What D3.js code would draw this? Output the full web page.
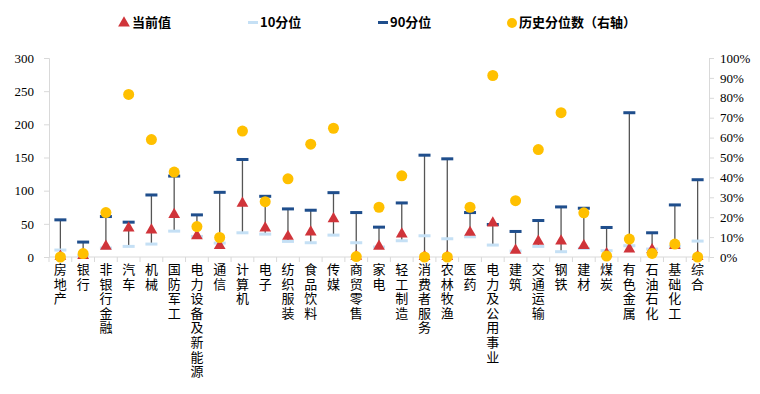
<!DOCTYPE html>
<meta charset="utf-8">
<script src="https://d3js.org/d3.v7.min.js"></script>
<style>
  body { margin: 0; background: #fff; }
</style>
<div id="my_dataviz"></div>
<script>

// categories and series
var categories = ["房地产","银行","非银行金融","汽车","机械","国防军工","电力设备及新能源","通信","计算机","电子",
  "纺织服装","食品饮料","传媒","商贸零售","家电","轻工制造","消费者服务","农林牧渔","医药","电力及公用事业",
  "建筑","交通运输","钢铁","建材","煤炭","有色金属","石油石化","基础化工","综合"];
var current = [1, 2, 16, 43.5, 40.5, 64, 32, 17, 81, 43.5,
  31, 37.5, 57.5, 1, 16, 34.5, 0.5, 0.5, 37, 51,
  10, 23.5, 24, 17, 5, 12, 11, 17, 0.5];
var p10 = [10.5, 2, 13.5, 16, 19.5, 39, 31, 21, 36.5, 34.5,
  23.5, 21.5, 33, 21.5, 15, 24.5, 32, 27.5, 30.5, 18,
  9, 16, 8, 13, 9.5, 17, 12, 16, 24];
var p90 = [56, 22.5, 61, 52.5, 93.5, 122, 63.5, 97.5, 147, 91.5,
  72.5, 70.5, 97, 67, 45, 81.5, 153.5, 148, 67, 49,
  38.5, 55, 75.5, 73.5, 44.5, 217.5, 36.5, 78.5, 116.5];
var pct = [0, 1.7, 22.3, 81.7, 59, 42.7, 15.3, 9.8, 63.3, 27.8,
  39.3, 56.7, 64.7, 0.2, 25, 40.8, 0, 0, 25, 91.2,
  28.3, 54, 72.5, 22.2, 0.5, 9, 1.8, 6.5, 0];
var leftTicks = [0, 50, 100, 150, 200, 250, 300];
var rightTicks = [0, 10, 20, 30, 40, 50, 60, 70, 80, 90, 100];

var W = 760, H = 394;
var x0 = 49, x1 = 709, yTop = 58, yBot = 257;

var svg = d3.select("#my_dataviz")
  .append("svg")
    .attr("width", W)
    .attr("height", H);

var x = d3.scaleBand()
  .domain(categories)
  .range([x0, x1])
  .padding(0);
var y = d3.scaleLinear().domain([0, 300]).range([yBot, yTop]);
var y2 = d3.scaleLinear().domain([0, 100]).range([yBot, yTop]);

var axisColor = "#d9d9d9";
var numFont = "'Liberation Serif', 'Times New Roman', serif";
var cjkFont = "'Noto Sans CJK SC', sans-serif";

// left axis
var gl = svg.append("g")
  .attr("transform", "translate(" + x0 + ",0)")
  .call(d3.axisLeft(y).tickValues(leftTicks).tickSize(5).tickPadding(10));
gl.select(".domain").attr("stroke", axisColor);
gl.selectAll(".tick line").attr("stroke", axisColor);
gl.selectAll("text").style("font-family", numFont).style("font-size", "13px").attr("fill", "#000");

// right axis
var gr = svg.append("g")
  .attr("transform", "translate(" + x1 + ",0)")
  .call(d3.axisRight(y2).tickValues(rightTicks).tickSize(5).tickPadding(6)
    .tickFormat(function(d) { return d + "%"; }));
gr.select(".domain").attr("stroke", axisColor);
gr.selectAll(".tick line").attr("stroke", axisColor);
gr.selectAll("text").style("font-family", numFont).style("font-size", "13px").attr("fill", "#000");

// bottom axis line with category separators
svg.append("line")
  .attr("x1", x0).attr("x2", x1)
  .attr("y1", yBot).attr("y2", yBot)
  .attr("stroke", axisColor);
svg.selectAll("sep")
  .data(categories.concat(["end"]))
  .enter()
  .append("line")
    .attr("x1", function(d, i) { return x0 + i * x.bandwidth(); })
    .attr("x2", function(d, i) { return x0 + i * x.bandwidth(); })
    .attr("y1", yBot).attr("y2", yBot + 5)
    .attr("stroke", axisColor);

// category labels, one character per line
var lab = svg.selectAll("catlab")
  .data(categories)
  .enter()
  .append("text")
    .attr("x", function(d) { return x(d) + x.bandwidth() / 2; })
    .attr("y", 274)
    .style("font-family", cjkFont)
    .style("font-size", "13px")
    .attr("fill", "#000")
    .attr("text-anchor", "middle");
lab.selectAll("tspan")
  .data(function(d) { return d.split(""); })
  .enter()
  .append("tspan")
    .attr("x", function() { return d3.select(this.parentNode).attr("x"); })
    .attr("dy", function(d, i) { return i === 0 ? 0 : 14.6; })
    .text(function(d) { return d; });

var cx = function(i) { return x(categories[i]) + x.bandwidth() / 2; };
var idx = d3.range(categories.length);

// high-low lines
svg.selectAll("hl")
  .data(idx)
  .enter()
  .append("line")
    .attr("x1", cx).attr("x2", cx)
    .attr("y1", function(i) { return y(Math.max(p90[i], current[i], p10[i])); })
    .attr("y2", function(i) { return y(Math.min(p10[i], current[i], p90[i])); })
    .attr("stroke", "#555")
    .attr("stroke-width", 1.3);

// 10th percentile marks
svg.selectAll("p10")
  .data(idx)
  .enter()
  .append("rect")
    .attr("x", function(i) { return cx(i) - 6; })
    .attr("y", function(i) { return y(p10[i]) - 1.5; })
    .attr("width", 12).attr("height", 3)
    .attr("fill", "#c5e0f5");

// 90th percentile marks
svg.selectAll("p90")
  .data(idx)
  .enter()
  .append("rect")
    .attr("x", function(i) { return cx(i) - 6; })
    .attr("y", function(i) { return y(p90[i]) - 1.5; })
    .attr("width", 12).attr("height", 3)
    .attr("fill", "#1f4e8c");

// current value triangles
var tri = d3.symbol().type(d3.symbolTriangle).size(60);
svg.selectAll("cur")
  .data(idx)
  .enter()
  .append("path")
    .attr("d", tri)
    .attr("transform", function(i) { return "translate(" + cx(i) + "," + y(current[i]) + ")"; })
    .attr("fill", "#d0343a");

// historical percentile dots (right axis)
svg.selectAll("dot")
  .data(idx)
  .enter()
  .append("circle")
    .attr("cx", cx)
    .attr("cy", function(i) { return y2(pct[i]); })
    .attr("r", 5.5)
    .attr("fill", "#ffc000");

// legend
var lg = svg.append("g")
  .style("font-family", cjkFont)
  .style("font-size", "13px")
  .style("font-weight", "bold");
lg.append("path").attr("d", tri).attr("transform", "translate(124,23)").attr("fill", "#d0343a");
lg.append("text").attr("x", 132).attr("y", 27).text("当前值");
lg.append("rect").attr("x", 248).attr("y", 21).attr("width", 10).attr("height", 3).attr("fill", "#c5e0f5");
lg.append("text").attr("x", 260).attr("y", 27).text("10分位");
lg.append("rect").attr("x", 378).attr("y", 21).attr("width", 10).attr("height", 3).attr("fill", "#1f4e8c");
lg.append("text").attr("x", 390).attr("y", 27).text("90分位");
lg.append("circle").attr("cx", 512).attr("cy", 23).attr("r", 5).attr("fill", "#ffc000");
lg.append("text").attr("x", 519).attr("y", 27).text("历史分位数（右轴）");

</script>
